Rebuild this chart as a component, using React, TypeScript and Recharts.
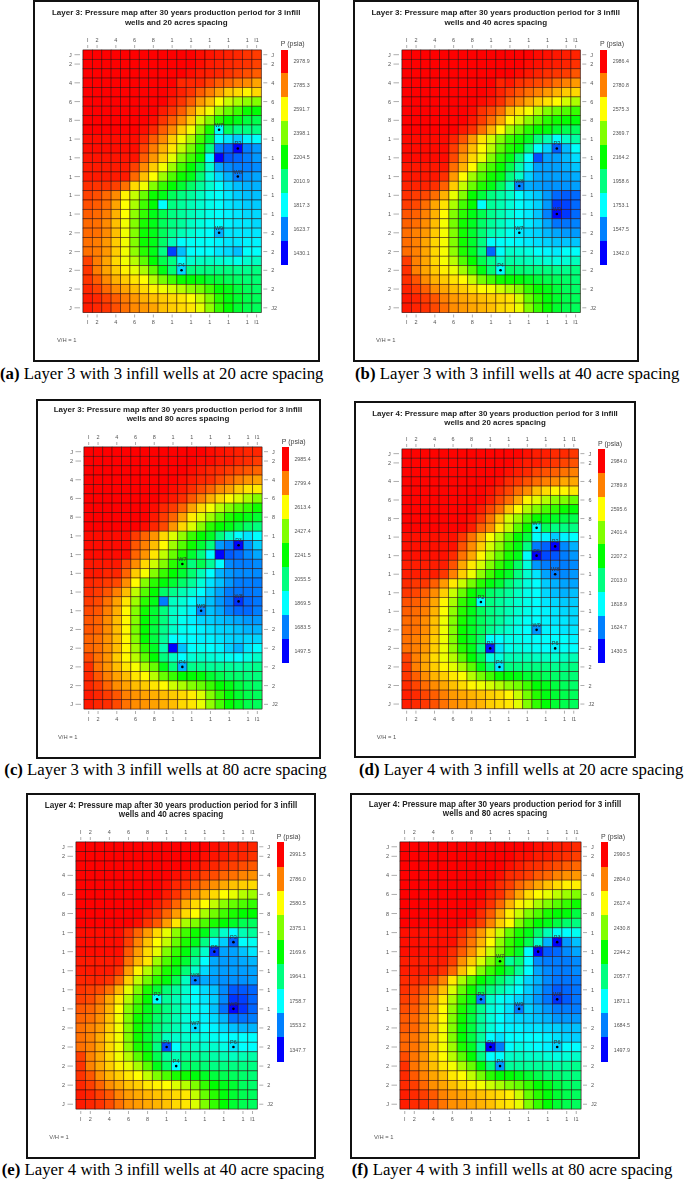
import { ScatterChart, Scatter, XAxis, YAxis } from "recharts";

const colTicks = [1, 2, 4, 6, 8, 10, 12, 14, 16, 18, 19];
const colLabels = ["I", "2", "4", "6", "8", "1", "1", "1", "1", "1", "I1"];
const rowTicks = [1, 2, 4, 6, 8, 10, 12, 14, 16, 18, 20, 22, 24, 26, 28];
const rowLabelsLeft = ["J", "2", "4", "6", "8", "1", "1", "1", "1", "1", "2", "2", "2", "2", "J"];
const rowLabelsRight = ["J", "2", "4", "6", "8", "1", "1", "1", "1", "1", "2", "2", "2", "2", "J2"];
const rainbow = ["#ff0000", "#ff8000", "#ffff00", "#80ff00", "#00ff00", "#00ff80", "#00ffff", "#0080ff", "#0000ff"];

// pressure per cell, tens of psia, row J1 first
const pressureA = [
  [298,298,298,298,298,298,298,298,298,298,298,298,296,295,294,293,292,290,289],
  [298,298,298,298,298,298,298,298,298,298,298,298,296,294,293,292,291,290,288],
  [298,298,298,298,298,298,298,298,298,298,298,296,294,293,292,290,288,286,284],
  [298,298,298,298,298,298,298,298,298,298,292,292,292,288,284,282,279,277,273],
  [298,298,298,298,298,298,298,298,298,296,293,290,284,279,273,267,265,261,265],
  [298,298,298,298,298,298,298,298,298,294,290,284,275,269,259,251,246,242,240],
  [298,298,298,298,298,298,298,298,294,290,284,275,265,257,244,236,230,222,220],
  [298,298,298,298,298,298,298,296,290,284,277,267,251,240,226,220,217,211,209],
  [298,298,298,298,298,298,296,292,284,277,267,257,240,224,182,207,201,201,201],
  [296,296,296,296,296,296,292,284,277,267,257,246,230,213,182,178,174,180,182],
  [296,296,296,296,296,296,288,279,271,263,250,238,224,201,162,158,143,162,166],
  [295,295,295,295,295,295,284,275,267,255,240,230,220,182,143,156,158,162,166],
  [294,294,294,294,294,288,277,267,257,244,230,220,209,189,168,164,162,162,164],
  [294,294,294,294,294,282,269,259,244,232,222,217,203,187,176,170,162,166,168],
  [291,290,290,288,281,265,257,240,228,220,213,205,197,189,182,176,172,170,170],
  [288,286,282,277,261,250,236,222,217,207,201,197,191,185,182,178,174,172,172],
  [286,284,281,273,259,246,230,220,182,201,197,193,189,185,182,178,176,174,174],
  [284,282,279,271,259,242,228,217,209,201,197,193,189,185,182,180,178,176,176],
  [282,281,277,269,257,240,224,217,207,201,197,191,187,183,182,180,178,178,176],
  [282,281,277,269,257,240,222,217,207,199,193,189,185,182,170,178,178,178,178],
  [281,279,275,267,257,240,222,217,205,193,182,183,183,182,180,178,178,180,180],
  [281,279,275,267,257,242,226,217,201,153,172,182,182,182,178,176,172,182,182],
  [288,279,273,265,257,248,234,220,209,201,182,189,191,191,189,187,185,189,191],
  [290,279,273,267,261,255,246,234,217,203,176,201,201,201,201,201,199,199,201],
  [290,284,277,271,267,263,259,248,238,230,222,220,218,213,211,207,205,203,203],
  [292,288,282,277,273,269,265,261,257,253,248,242,238,230,220,217,211,207,205],
  [294,292,288,284,279,275,271,269,267,265,263,259,251,240,226,218,213,209,207],
  [294,292,290,286,281,277,275,273,269,267,265,263,255,242,228,220,213,209,207],
];
const pressureB = [
  [299,299,299,299,299,299,299,299,299,299,299,299,299,299,297,296,295,294,293],
  [299,299,299,299,299,299,299,299,299,299,299,299,299,297,296,295,294,293,291],
  [299,299,299,299,299,299,299,299,299,299,299,299,297,295,293,291,290,289,285],
  [299,299,299,299,299,299,299,299,299,299,293,295,291,289,287,285,281,278,274],
  [299,299,299,299,299,299,299,299,299,297,293,289,285,281,278,274,270,266,264],
  [299,299,299,299,299,299,299,299,297,295,291,283,278,272,266,262,258,250,244],
  [299,299,299,299,299,299,299,297,291,287,281,268,262,256,246,237,233,229,225],
  [299,299,299,299,299,299,299,295,289,281,272,258,250,239,231,223,219,217,215],
  [299,299,299,299,299,299,295,291,281,270,258,242,233,223,217,215,209,204,202],
  [297,297,297,297,297,293,285,274,262,250,237,225,219,211,196,188,176,184,190],
  [297,297,297,297,297,289,278,268,258,246,231,221,215,196,176,168,149,164,176],
  [297,297,297,297,297,287,274,264,254,237,223,213,196,176,147,160,160,164,170],
  [295,295,295,295,295,281,270,258,237,227,217,204,188,172,160,160,160,162,166],
  [295,295,295,295,291,274,258,242,229,219,213,196,184,168,161,160,160,160,162],
  [293,293,293,291,283,266,248,233,221,213,202,186,155,162,160,158,158,158,160],
  [291,289,287,281,270,254,237,217,207,196,190,184,176,170,166,159,151,149,151],
  [289,287,281,272,262,244,227,217,176,192,188,182,176,172,168,159,143,145,151],
  [285,283,278,270,258,237,223,213,204,194,188,182,176,172,166,155,135,143,151],
  [283,281,276,268,256,235,219,211,200,192,186,180,176,172,168,161,153,153,155],
  [281,278,274,266,256,237,219,209,198,188,184,178,172,170,168,164,161,159,159],
  [281,278,272,264,256,237,219,209,196,176,176,176,174,172,170,168,166,166,166],
  [281,278,272,264,256,239,221,211,196,151,176,184,182,180,176,174,172,176,176],
  [289,278,272,264,256,246,229,217,204,194,184,190,188,186,184,182,180,182,186],
  [291,278,272,266,260,254,242,229,213,198,176,200,198,196,196,196,194,194,196],
  [291,285,276,270,266,262,258,248,235,227,219,217,215,211,207,204,202,200,198],
  [293,289,283,276,272,268,266,262,258,256,250,244,237,225,217,213,207,202,200],
  [295,293,289,285,278,274,272,270,268,266,264,262,250,233,223,215,209,204,202],
  [295,293,291,287,281,276,274,272,270,268,264,262,254,237,225,217,209,204,202],
];
const pressureC = [
  [299,299,299,299,299,299,299,299,299,299,299,299,299,297,296,295,294,293,293],
  [299,299,299,299,299,299,299,299,299,299,299,299,297,297,295,295,293,292,290],
  [299,299,299,299,299,299,299,299,299,299,299,297,295,293,292,290,288,286,284],
  [299,299,299,299,299,299,299,299,299,299,297,295,293,292,288,284,280,277,275],
  [299,299,299,299,299,299,299,299,299,297,295,292,288,284,278,275,269,265,264],
  [299,299,299,299,299,299,299,299,297,295,292,286,280,273,267,262,256,249,243],
  [299,299,299,299,299,299,299,297,293,290,284,275,267,260,251,243,237,232,226],
  [299,299,299,299,299,299,299,295,290,284,275,264,256,247,237,228,224,221,217],
  [299,299,299,299,299,299,297,293,288,277,267,256,243,230,224,221,215,209,206],
  [297,297,297,297,297,290,284,277,267,256,245,232,224,219,206,195,187,183,187],
  [297,297,297,297,297,286,280,271,262,247,236,226,217,206,172,168,150,172,180],
  [297,297,297,297,297,284,277,265,252,239,228,217,206,187,150,163,165,170,174],
  [295,295,295,295,288,278,267,254,243,230,221,206,213,202,187,170,168,168,170],
  [295,295,293,293,284,269,260,243,232,224,217,208,198,187,176,172,170,170,170],
  [293,292,290,288,278,262,243,230,223,217,209,202,193,183,178,172,168,168,168],
  [292,290,286,280,271,252,236,224,209,204,198,193,187,180,174,168,167,167,168],
  [290,288,282,275,265,247,230,221,168,196,193,187,181,178,172,167,157,165,167],
  [288,286,280,273,262,243,226,217,206,195,191,185,170,178,174,168,165,165,168],
  [286,284,278,271,262,243,224,217,206,195,189,185,181,180,178,176,174,172,172],
  [286,284,278,271,262,241,224,215,204,195,189,187,185,183,181,180,178,176,176],
  [284,282,277,271,262,243,224,215,202,187,187,187,185,185,183,181,180,181,181],
  [284,282,277,271,262,247,230,219,198,150,178,187,189,187,185,180,176,183,187],
  [288,282,277,269,262,251,237,224,206,196,187,193,195,193,191,189,187,191,195],
  [292,282,277,271,265,260,249,239,221,206,176,204,204,202,202,202,200,202,204],
  [293,286,280,275,271,265,262,251,239,232,224,224,223,217,213,209,208,206,206],
  [293,290,284,278,275,271,269,265,262,254,249,243,239,232,224,221,215,211,209],
  [295,293,290,286,280,277,275,273,271,269,267,264,256,243,232,223,217,213,211],
  [295,293,292,288,282,278,277,275,273,271,267,265,258,245,234,224,219,213,211],
];
const pressureD = [
  [298,298,298,298,298,298,298,298,298,298,298,298,298,296,294,294,292,292,290],
  [298,298,298,298,298,298,298,298,298,298,298,298,296,294,294,292,290,288,286],
  [298,298,298,298,298,298,298,298,298,298,298,296,294,292,288,286,284,281,279],
  [298,298,298,298,298,298,298,298,298,298,296,292,290,286,282,279,277,273,273],
  [298,298,298,298,298,298,298,298,298,296,292,288,282,277,269,265,261,261,263],
  [298,298,298,298,298,298,298,298,298,294,288,282,273,261,255,248,242,240,236],
  [298,298,298,298,298,298,298,298,294,288,281,269,259,248,240,232,228,222,220],
  [298,298,298,298,298,298,298,296,290,281,269,253,244,232,222,218,215,211,209],
  [298,298,298,298,298,298,298,294,284,277,263,250,234,222,182,207,201,201,201],
  [296,296,296,296,296,296,290,281,271,259,248,234,220,211,182,180,174,180,182],
  [296,296,296,296,296,296,286,277,267,253,242,228,218,201,162,158,143,164,170],
  [296,296,296,296,296,292,281,273,261,248,236,224,217,182,143,154,156,162,166],
  [294,294,294,294,294,286,273,263,253,240,228,218,205,187,166,162,162,162,164],
  [294,294,294,294,290,279,267,257,242,230,220,215,201,189,178,168,162,164,166],
  [292,290,290,284,275,263,251,238,226,218,213,203,195,187,182,174,170,168,168],
  [290,288,284,277,267,251,236,222,215,205,201,197,191,185,182,176,172,170,172],
  [286,284,281,273,261,246,228,218,182,201,197,193,189,185,182,178,176,174,174],
  [284,282,279,271,259,242,226,217,207,201,197,193,189,185,182,180,178,176,176],
  [282,281,277,269,257,240,224,215,207,201,197,191,187,183,182,180,178,178,176],
  [282,281,277,269,257,240,222,215,207,199,193,189,185,182,166,180,180,178,178],
  [281,279,275,267,257,240,222,215,205,182,182,185,185,183,182,182,182,182,180],
  [281,279,275,267,257,242,226,217,201,147,178,185,187,185,183,182,180,183,182],
  [288,279,273,265,257,248,234,220,209,187,187,193,193,193,191,191,189,191,193],
  [290,279,273,267,261,255,246,234,217,203,178,201,201,201,201,201,199,199,201],
  [290,284,277,271,267,263,259,248,238,230,222,220,218,213,211,207,205,203,203],
  [292,288,282,277,273,269,265,261,257,253,248,242,238,230,220,217,211,207,205],
  [294,292,288,284,279,275,273,271,269,267,265,261,251,238,226,218,213,209,207],
  [294,292,290,286,281,277,275,273,271,267,265,263,255,240,228,220,213,209,207],
];
const pressureE = [
  [299,299,299,299,299,299,299,299,299,299,299,299,299,299,297,296,295,294,293],
  [299,299,299,299,299,299,299,299,299,299,299,299,299,297,296,295,293,293,291],
  [299,299,299,299,299,299,299,299,299,299,299,299,297,295,293,291,289,287,285],
  [299,299,299,299,299,299,299,299,299,299,297,295,293,289,287,283,281,278,276],
  [299,299,299,299,299,299,299,299,299,297,293,291,285,281,276,272,268,266,264],
  [299,299,299,299,299,299,299,299,299,295,291,283,276,270,264,258,254,246,242],
  [299,299,299,299,299,299,299,299,295,291,283,272,264,258,248,239,233,229,225],
  [299,299,299,299,299,299,299,295,291,283,274,264,258,244,235,227,221,217,217],
  [299,299,299,299,299,299,297,291,285,274,262,244,237,229,221,217,211,204,202],
  [297,297,297,297,297,291,283,274,264,254,239,227,219,213,196,184,176,188,192],
  [297,297,297,297,297,289,278,268,258,248,233,221,213,196,176,168,151,176,178],
  [297,297,297,297,297,285,274,264,254,237,225,215,200,184,143,161,161,166,172],
  [295,295,295,295,295,281,270,262,242,229,219,209,192,176,162,160,160,162,164],
  [295,295,295,295,291,274,260,246,233,221,213,198,184,170,162,160,160,160,161],
  [293,293,293,291,283,266,248,235,223,215,204,186,155,162,160,158,158,158,160],
  [291,289,287,281,270,254,237,221,209,198,192,184,176,170,166,157,149,149,151],
  [289,287,281,272,262,246,229,217,176,192,188,182,176,172,168,157,143,145,151],
  [285,283,278,270,258,239,225,213,204,196,190,184,178,174,166,153,135,143,151],
  [283,281,276,268,256,237,219,211,200,194,188,182,178,174,170,164,153,153,155],
  [281,278,274,266,256,237,219,209,198,192,188,182,170,176,174,170,166,164,164],
  [281,278,272,264,256,237,219,209,198,186,184,184,182,180,178,176,176,176,176],
  [281,278,272,264,256,239,221,213,196,147,176,188,186,184,184,180,172,176,176],
  [289,278,272,264,256,246,231,219,204,192,188,194,192,192,190,188,186,188,190],
  [291,278,272,266,260,254,244,231,213,200,176,200,200,198,196,196,196,196,196],
  [291,285,276,270,266,262,258,248,237,229,221,219,215,211,207,204,202,200,198],
  [293,289,283,276,272,268,266,262,260,258,252,246,237,225,217,213,209,202,200],
  [295,293,289,285,278,274,272,270,268,266,264,262,248,233,223,215,209,204,202],
  [295,293,291,287,281,276,274,272,270,268,264,262,252,237,225,217,209,204,202],
];
const pressureF = [
  [299,299,299,299,299,299,299,299,299,299,299,299,299,299,297,297,295,295,293],
  [299,299,299,299,299,299,299,299,299,299,299,299,297,297,295,295,293,292,290],
  [299,299,299,299,299,299,299,299,299,299,299,297,295,293,292,290,288,286,284],
  [299,299,299,299,299,299,299,299,299,299,297,293,292,290,286,284,280,278,277],
  [299,299,299,299,299,299,299,299,299,297,293,290,284,280,275,271,267,264,264],
  [299,299,299,299,299,299,299,299,299,295,292,284,275,267,262,258,252,247,243],
  [299,299,299,299,299,299,299,299,297,292,284,273,264,258,249,243,237,232,226],
  [299,299,299,299,299,299,299,299,293,286,275,264,254,243,236,228,224,223,215],
  [299,299,299,299,299,299,299,295,290,280,269,262,243,232,224,221,215,209,206],
  [297,297,297,297,297,297,293,286,277,267,254,239,228,221,209,198,189,187,189],
  [297,297,297,297,297,297,290,282,273,262,245,232,224,213,195,176,150,172,178],
  [297,297,297,297,297,293,286,278,267,254,241,230,219,187,150,163,165,170,174],
  [295,295,295,295,295,290,278,269,256,243,230,202,208,187,170,168,168,168,170],
  [295,295,295,295,292,284,271,260,243,232,224,215,202,187,174,170,168,168,170],
  [293,293,292,288,280,265,249,236,224,217,209,200,191,181,176,170,167,167,168],
  [292,290,286,280,271,256,239,226,213,206,200,193,187,180,174,168,163,165,167],
  [290,288,282,275,265,249,232,221,168,195,189,185,181,178,172,167,157,163,167],
  [288,286,280,273,262,245,228,217,204,193,189,183,168,180,176,172,168,168,168],
  [286,284,278,271,262,243,226,215,202,193,187,183,181,180,178,176,172,172,172],
  [286,284,278,271,260,243,224,215,202,193,187,185,185,183,183,181,180,178,178],
  [284,282,277,269,260,243,224,215,202,187,183,187,187,187,187,185,183,181,180],
  [284,282,277,269,260,247,228,219,200,150,168,187,191,189,187,185,181,187,187],
  [288,282,277,269,262,251,237,224,206,187,187,195,196,195,195,193,191,193,195],
  [292,282,277,271,265,260,249,239,223,206,172,202,202,202,202,202,200,202,204],
  [293,286,280,275,271,265,262,252,241,230,224,224,221,217,213,209,208,206,206],
  [293,290,284,278,275,271,267,264,260,254,249,243,239,232,224,221,215,211,209],
  [295,293,290,286,280,277,275,273,271,269,267,264,254,239,230,223,217,213,211],
  [295,293,292,288,282,278,277,275,273,271,267,265,258,243,232,224,217,213,211],
];

const legendA = ["2978.9", "2785.3", "2591.7", "2398.1", "2204.5", "2010.9", "1817.3", "1623.7", "1430.1"];
const legendB = ["2986.4", "2780.8", "2575.3", "2369.7", "2164.2", "1958.6", "1753.1", "1547.5", "1342.0"];
const legendC = ["2985.4", "2799.4", "2613.4", "2427.4", "2241.5", "2055.5", "1869.5", "1683.5", "1497.5"];
const legendD = ["2984.0", "2789.8", "2595.6", "2401.4", "2207.2", "2013.0", "1818.9", "1624.7", "1430.5"];
const legendE = ["2991.5", "2786.0", "2580.5", "2375.1", "2169.6", "1964.1", "1758.7", "1553.2", "1347.7"];
const legendF = ["2990.5", "2804.0", "2617.4", "2430.8", "2244.2", "2057.7", "1871.1", "1684.5", "1497.9"];

const wellsA = [{ name: "W7", i: 15, j: 9 }, { name: "P3", i: 17, j: 11 }, { name: "W8", i: 17, j: 14 }, { name: "W9", i: 15, j: 20 }, { name: "P4", i: 11, j: 24 }];
const wellsB = [{ name: "P3", i: 17, j: 11 }, { name: "W8", i: 13, j: 15 }, { name: "W9", i: 17, j: 18 }, { name: "W7", i: 13, j: 20 }, { name: "P4", i: 11, j: 24 }];
const wellsC = [{ name: "P3", i: 17, j: 11 }, { name: "W7", i: 11, j: 13 }, { name: "W8", i: 17, j: 17 }, { name: "W9", i: 13, j: 18 }, { name: "P4", i: 11, j: 24 }];
const wellsD = [{ name: "W7", i: 15, j: 9 }, { name: "P3", i: 17, j: 11 }, { name: "P5", i: 15, j: 12 }, { name: "W8", i: 17, j: 14 }, { name: "P2", i: 9, j: 17 }, { name: "W9", i: 15, j: 20 }, { name: "P1", i: 10, j: 22 }, { name: "P6", i: 17, j: 22 }, { name: "P4", i: 11, j: 24 }];
const wellsE = [{ name: "P3", i: 17, j: 11 }, { name: "P5", i: 15, j: 12 }, { name: "W8", i: 13, j: 15 }, { name: "P2", i: 9, j: 17 }, { name: "W9", i: 17, j: 18 }, { name: "W7", i: 13, j: 20 }, { name: "P1", i: 10, j: 22 }, { name: "P6", i: 17, j: 22 }, { name: "P4", i: 11, j: 24 }];
const wellsF = [{ name: "P3", i: 17, j: 11 }, { name: "P5", i: 15, j: 12 }, { name: "W7", i: 11, j: 13 }, { name: "P2", i: 9, j: 17 }, { name: "W8", i: 17, j: 17 }, { name: "W9", i: 13, j: 18 }, { name: "P1", i: 10, j: 22 }, { name: "P6", i: 17, j: 22 }, { name: "P4", i: 11, j: 24 }];

const panels = [
  { tag: "(a)", cap: " Layer 3 with 3 infill wells at 20 acre spacing", layer: 3, acres: 20, grid: pressureA, legend: legendA, wells: wellsA, frame: [33, 0, 319.5, 361.5], plot: [82.7, 49.5, 261, 312], barX: 281, barB: 265, titleY: 13.3, vhX: 57, vhY: 340, capX: 0, capY: 374 },
  { tag: "(b)", cap: " Layer 3 with 3 infill wells at 40 acre spacing", layer: 3, acres: 40, grid: pressureB, legend: legendB, wells: wellsB, frame: [352.5, 0, 639, 361.5], plot: [402, 49.5, 580.3, 312], barX: 600.3, barB: 265, titleY: 13.3, vhX: 376, vhY: 340, capX: 355, capY: 374 },
  { tag: "(c)", cap: " Layer 3 with 3 infill wells at 80 acre spacing", layer: 3, acres: 80, grid: pressureC, legend: legendC, wells: wellsC, frame: [35.5, 398.5, 320.5, 758.5], plot: [84.3, 447.3, 262.3, 709.3], barX: 282, barB: 663, titleY: 409.7, vhX: 58, vhY: 737, capX: 4.3, capY: 770 },
  { tag: "(d)", cap: " Layer 4 with 3 infill wells at 20 acre spacing", layer: 4, acres: 20, grid: pressureD, legend: legendD, wells: wellsD, frame: [354, 401, 636, 757.5], plot: [402.3, 449.3, 578.7, 709], barX: 598.3, barB: 663, titleY: 414, vhX: 376.7, vhY: 736.7, capX: 359, capY: 770 },
  { tag: "(e)", cap: " Layer 4 with 3 infill wells at 40 acre spacing", layer: 4, acres: 40, grid: pressureE, legend: legendE, wells: wellsE, frame: [26, 793, 316, 1158.5], plot: [75.7, 842.3, 257, 1109.3], barX: 277, barB: 1061.7, titleY: 805.7, vhX: 49.3, vhY: 1137.3, capX: 1.7, capY: 1170 },
  { tag: "(f)", cap: " Layer 4 with 3 infill wells at 80 acre spacing", layer: 4, acres: 80, grid: pressureF, legend: legendF, wells: wellsF, frame: [350, 793, 640, 1158.5], plot: [400, 842.3, 581, 1109.3], barX: 601.3, barB: 1061.7, titleY: 805.2, vhX: 374, vhY: 1137.3, capX: 351.7, capY: 1170 },
];

const SANS = "'Liberation Sans', Arial, sans-serif";
const SERIF = "'Liberation Serif', 'Times New Roman', serif";
const PAD_X = 30;
const PAD_Y = 20;
const TICK_COLOR = "#777";
const LABEL_COLOR = "#555";

function hexToRgb(h: string) {
  return [1, 3, 5].map((k) => parseInt(h.slice(k, k + 2), 16));
}

function pressureColor(p: number, top: number, bottom: number) {
  const pos = Math.min(8, Math.max(0, ((top - p) / (top - bottom)) * 8));
  const k = Math.min(7, Math.floor(pos));
  const a = hexToRgb(rainbow[k]);
  const b = hexToRgb(rainbow[k + 1]);
  const t = pos - k;
  return `rgb(${a.map((v, n) => Math.round(v + (b[n] - v) * t)).join(",")})`;
}

function tickMaker(side: "top" | "bottom" | "left" | "right", ticks: number[], labels: string[], w: number, h: number) {
  return (props: any) => {
    const label = labels[ticks.indexOf(props.payload.value)];
    const common = { fontFamily: SANS, fontSize: 5.5, fill: LABEL_COLOR };
    if (side === "top" || side === "bottom") {
      const x = props.x;
      const edge = side === "top" ? PAD_Y : PAD_Y + h;
      const s = side === "top" ? -1 : 1;
      return (
        <g>
          <line x1={x} x2={x} y1={edge + s * 2} y2={edge + s * 5} stroke={TICK_COLOR} strokeWidth={0.6} />
          <text x={x} y={edge + s * 10} textAnchor="middle" dominantBaseline="central" {...common}>{label}</text>
        </g>
      );
    }
    const y = props.y;
    if (side === "left") {
      return (
        <g>
          <line x1={PAD_X - 8.5} x2={PAD_X - 3} y1={y} y2={y} stroke={TICK_COLOR} strokeWidth={0.6} />
          <text x={PAD_X - 12.5} y={y} textAnchor="middle" dominantBaseline="central" {...common}>{label}</text>
        </g>
      );
    }
    return (
      <g>
        <line x1={PAD_X + w + 2} x2={PAD_X + w + 6} y1={y} y2={y} stroke={TICK_COLOR} strokeWidth={0.6} />
        <text x={PAD_X + w + 10} y={y} textAnchor="start" dominantBaseline="central" {...common}>{label}</text>
      </g>
    );
  };
}

function Panel({ panel }: { panel: (typeof panels)[number] }) {
  const [fx0, fy0, fx1, fy1] = panel.frame;
  const [px0, py0, px1, py1] = panel.plot;
  const w = px1 - px0;
  const h = py1 - py0;
  const cw = w / 19;
  const ch = h / 28;
  const top = parseFloat(panel.legend[0]);
  const bottom = parseFloat(panel.legend[8]);
  const cells = panel.grid.flatMap((row, r) => row.map((p10, c) => ({ i: c + 1, j: r + 1, p: p10 * 10 })));
  const bandH = (panel.barB - py0) / 9;
  const textScale = w / 178;

  return (
    <>
      <div style={{ position: "absolute", left: fx0, top: fy0, width: fx1 - fx0, height: fy1 - fy0, border: "2px solid #111", boxSizing: "border-box", background: "#fff" }} />
      {/* the source is a soft upscaled scan, so the inner parts get a slight blur */}
      <div style={{ position: "absolute", left: 0, top: 0, width: 685, height: 1180, filter: "blur(0.4px)" }}>
        <div style={{ position: "absolute", left: fx0, width: fx1 - fx0, top: panel.titleY - 5, textAlign: "center", fontFamily: SANS, fontWeight: 700, fontSize: 8 * textScale, lineHeight: "9.3px", color: "#222" }}>
          Layer {panel.layer}: Pressure map after 30 years production period for 3 infill
          <br />
          wells and {panel.acres} acres spacing
        </div>
        <div style={{ position: "absolute", left: px0 - PAD_X, top: py0 - PAD_Y }}>
          <ScatterChart width={w + PAD_X * 2} height={h + PAD_Y * 2} margin={{ top: 0, right: 0, bottom: 0, left: 0 }}>
            <XAxis xAxisId="b" orientation="bottom" type="number" dataKey="i" domain={[0.5, 19.5]} ticks={colTicks} interval={0} height={PAD_Y} tickLine={false} axisLine={{ stroke: "#999" }} tick={tickMaker("bottom", colTicks, colLabels, w, h)} />
            <XAxis xAxisId="t" orientation="top" type="number" dataKey="i" domain={[0.5, 19.5]} ticks={colTicks} interval={0} height={PAD_Y} tickLine={false} axisLine={{ stroke: "#999" }} tick={tickMaker("top", colTicks, colLabels, w, h)} />
            <YAxis yAxisId="l" orientation="left" type="number" dataKey="j" reversed domain={[0.5, 28.5]} ticks={rowTicks} interval={0} width={PAD_X} tickLine={false} axisLine={{ stroke: "#999" }} tick={tickMaker("left", rowTicks, rowLabelsLeft, w, h)} />
            <YAxis yAxisId="r" orientation="right" type="number" dataKey="j" reversed domain={[0.5, 28.5]} ticks={rowTicks} interval={0} width={PAD_X} tickLine={false} axisLine={{ stroke: "#999" }} tick={tickMaker("right", rowTicks, rowLabelsRight, w, h)} />
            <Scatter
              data={cells}
              xAxisId="b"
              yAxisId="l"
              isAnimationActive={false}
              shape={(s: any) => (
                <rect x={s.cx - cw / 2} y={s.cy - ch / 2} width={cw} height={ch} fill={pressureColor(s.payload.p, top, bottom)} stroke="rgba(40,0,0,0.6)" strokeWidth={0.8} />
              )}
            />
            <Scatter
              data={panel.wells}
              xAxisId="t"
              yAxisId="r"
              isAnimationActive={false}
              shape={(s: any) => (
                <g>
                  <circle cx={s.cx} cy={s.cy} r={1.3} fill="#000" />
                  <text x={s.cx} y={s.cy - 5} textAnchor="middle" dominantBaseline="central" fontFamily={SANS} fontSize={5.5} fill="#333">{s.payload.name}</text>
                </g>
              )}
            />
          </ScatterChart>
        </div>
        <div style={{ position: "absolute", left: panel.barX - 0.3, top: py0 - 9.5, fontFamily: SANS, fontSize: 7, lineHeight: "8px", color: "#444", whiteSpace: "nowrap" }}>P (psia)</div>
        {panel.legend.map((val, k) => (
          <div key={val}>
            <div style={{ position: "absolute", left: panel.barX, top: py0 + k * bandH, width: 7, height: bandH + 0.3, background: rainbow[k] }} />
            <div style={{ position: "absolute", left: panel.barX + 12.4, top: py0 + (k + 0.5) * bandH - 4, fontFamily: SANS, fontSize: 5.3, lineHeight: "8px", color: LABEL_COLOR, whiteSpace: "nowrap" }}>{val}</div>
          </div>
        ))}
        <div style={{ position: "absolute", left: panel.vhX, top: panel.vhY - 4, fontFamily: SANS, fontSize: 5.8, lineHeight: "8px", color: LABEL_COLOR, whiteSpace: "nowrap" }}>V/H = 1</div>
      </div>
      <div style={{ position: "absolute", left: panel.capX, top: panel.capY - 9, fontFamily: SERIF, fontSize: 16.8, lineHeight: "18px", color: "#000", whiteSpace: "nowrap" }}>
        <b>{panel.tag}</b>
        {panel.cap}
      </div>
    </>
  );
}

export default function App() {
  return (
    <div style={{ position: "absolute", left: 0, top: 0, width: 685, height: 1180, background: "#fff", overflow: "hidden" }}>
      {panels.map((p) => (
        <Panel key={p.tag} panel={p} />
      ))}
    </div>
  );
}
